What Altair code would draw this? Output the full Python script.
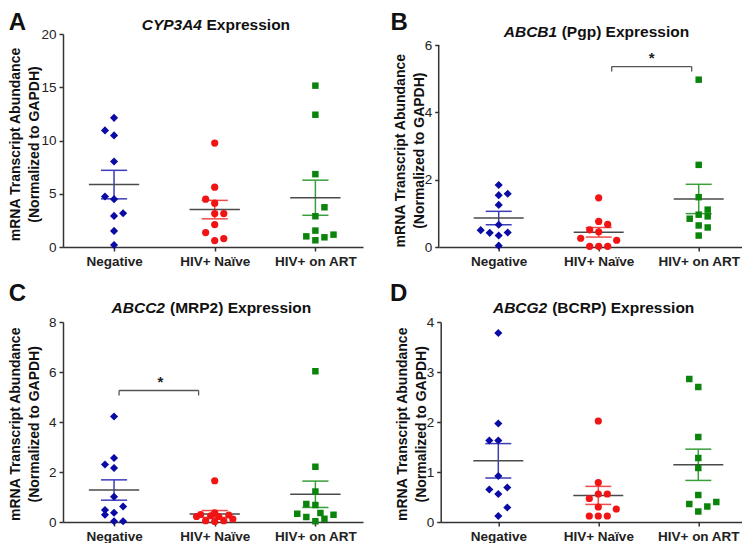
import altair as alt
import pandas as pd

GROUPS = ["Negative", "HIV+ Naïve", "HIV+ on ART"]

# ---- Panel A: CYP3A4 ----
A_neg = [12.13, 10.95, 10.48, 8.03, 4.74, 4.49, 3.17, 2.92, 1.51, 0.19]
A_neg_jit = [0, -0.09, 0, 0, -0.09, 0, 0.09, 0, 0, 0]
A_nai = [9.76, 5.62, 4.49, 4.11, 3.14, 3.14, 2.11, 1.35, 0.79, 0.60]
A_nai_jit = [0, 0, -0.09, 0, 0, 0.09, 0, -0.09, 0.09, 0]
A_art = [15.15, 12.42, 6.84, 3.73, 2.89, 1.54, 1.00, 0.63, 0.91, 1.16]
A_art_jit = [0, 0, 0, 0.09, 0, 0, -0.09, 0, 0.09, 0.18]

# ---- Panel B: ABCB1 ----
B_neg = [1.84, 1.58, 1.54, 1.25, 0.66, 0.50, 0.42, 0.43, 0.34, 0.04]
B_neg_jit = [0, 0.09, 0, 0, 0, -0.18, -0.09, 0.09, 0, 0]
B_nai = [1.46, 0.76, 0.67, 0.51, 0.45, 0.26, 0.20, 0.02, 0.02, 0.02]
B_nai_jit = [0, 0, 0.09, -0.09, 0, -0.18, 0.18, -0.09, 0, 0.09]
B_art = [4.97, 2.44, 1.48, 1.11, 0.91, 0.96, 0.84, 0.64, 0.58, 0.34]
B_art_jit = [0, 0, 0, 0.09, 0.09, 0, -0.09, 0, 0.09, 0]

# ---- Panel C: ABCC2 ----
C_neg = [4.22, 2.56, 2.30, 2.16, 1.01, 0.62, 0.48, 0.37, 0.29, 0.03, 0.03]
C_neg_jit = [0, 0, -0.09, 0, 0, 0.09, -0.09, 0, -0.09, 0, 0.09]
C_nai = [1.65, 0.37, 0.30, 0.22, 0.25, 0.22, 0.28, 0.12, 0.05, 0.05, 0.02]
C_nai_jit = [0, 0, -0.14, -0.18, -0.04, 0.04, 0.14, 0.18, -0.09, 0.09, 0]
C_art = [6.03, 2.21, 1.22, 0.72, 0.68, 0.36, 0.33, 0.29, 0.20, 0.13, 0.03]
C_art_jit = [0, 0, 0, -0.09, 0, 0.05, -0.18, 0.18, -0.09, 0.09, 0]

# ---- Panel D: ABCG2 ----
D_neg = [3.78, 1.97, 1.63, 1.63, 0.92, 0.69, 0.65, 0.56, 0.29, 0.12]
D_neg_jit = [0, 0, -0.09, 0, 0, 0.09, -0.09, 0, 0.09, 0]
D_nai = [2.02, 0.79, 0.56, 0.56, 0.47, 0.30, 0.26, 0.12, 0.12, 0.12]
D_nai_jit = [0, 0, 0, 0.09, -0.09, 0, 0.18, -0.09, 0, 0.09]
D_art = [2.86, 2.70, 1.70, 1.28, 1.08, 0.54, 0.40, 0.36, 0.31, 0.21]
D_art_jit = [-0.09, 0, 0, 0, 0, 0, 0.18, -0.09, 0.09, 0]

# significance brackets: [x_left, x_right, y_top, y_leg_bottom, star_x, star_y]
B_bracket = [1.13, 1.93, 5.36, 5.21, 1.53, 5.62]
C_bracket = [0.05, 0.84, 5.26, 5.06, 0.46, 5.60]

Y_TITLE_1 = "mRNA Transcript Abundance"
Y_TITLE_2 = "(Normalized to GAPDH)"

POINT_COLORS = ["#0a0aa5", "#f01414", "#0b840b"]
ERR_COLORS = ["#3c3cb9", "#f04a4a", "#3a9e3a"]
SHAPES = ["diamond", "circle", "square"]
SIZES = [66, 52, 42]
MEAN_COLOR = "#4a4a4a"
AXIS_COLOR = "#333333"
FONT = "Liberation Sans"


def make_df(vals, jits):
    rows = []
    for gi, (v, j) in enumerate(zip(vals, jits)):
        for a, b in zip(v, j):
            rows.append({"grp": GROUPS[gi], "g": gi, "value": a, "jit": b})
    return pd.DataFrame(rows)


def text_layer(t, x, y, **kw):
    return alt.Chart(pd.DataFrame({"t": [t]})).mark_text(color="#111111", **kw).encode(
        text="t:N", x=alt.value(x), y=alt.value(y))


def panel(vals, jits, xdom, ymax, yticks, w, h, letter, letter_xy,
          gene, rest, split, title_y, ytitle_xs, ytitle_y,
          bracket=None, axis_top=None):
    df = make_df(vals, jits)
    xscale = alt.Scale(domain=xdom, nice=False, zero=False)
    yscale = alt.Scale(domain=[0, ymax], nice=False, zero=True)
    xaxis = alt.Axis(values=[0, 1, 2],
                     labelExpr="['Negative','HIV+ Naïve','HIV+ on ART'][datum.value]",
                     title=None, labelFontWeight="bold", labelFontSize=13.5,
                     labelPadding=3, tickSize=4, grid=False, labelAngle=0,
                     labelFlush=False, labelOverlap=False)
    yaxis = alt.Axis(values=yticks, format="d", title=None,
                     labelFontSize=13.5, labelPadding=3, tickSize=4, grid=False,
                     labelFlush=False, domain=(axis_top is None))

    def X(f):
        return alt.X(f, type="quantitative", scale=xscale, axis=xaxis)

    def Y(f):
        return alt.Y(f, type="quantitative", scale=yscale, axis=yaxis)

    base = alt.Chart(df)
    agg = base.transform_aggregate(
        mean="mean(value)", sem="stderr(value)", groupby=["g", "grp"]
    ).transform_calculate(
        lo="datum.mean - datum.sem", hi="datum.mean + datum.sem",
        m1="datum.g - 0.25", m2="datum.g + 0.25",
        c1="datum.g - 0.13", c2="datum.g + 0.13",
    )
    err_color = alt.Color("grp:N", scale=alt.Scale(domain=GROUPS, range=ERR_COLORS), legend=None)

    sem_v = agg.mark_rule(strokeWidth=1.5).encode(x=X("g"), y=Y("lo"), y2="hi:Q", color=err_color)
    caps = agg.transform_fold(["lo", "hi"], as_=["which", "cap"]).mark_rule(strokeWidth=1.5).encode(
        x=X("c1"), x2="c2:Q", y=Y("cap"), color=err_color)
    mean_rule = agg.mark_rule(strokeWidth=1.5, color=MEAN_COLOR).encode(x=X("m1"), x2="m2:Q", y=Y("mean"))

    layers = []
    if axis_top is not None:
        # y-axis line that stops at the top tick
        ax = alt.Chart(pd.DataFrame({"x": [xdom[0]], "y1": [0], "y2": [axis_top]})).mark_rule(
            color=AXIS_COLOR, strokeWidth=1.5).encode(x=X("x"), y=Y("y1"), y2="y2:Q")
        layers.append(ax)
    layers += [sem_v, caps, mean_rule]
    for gi in range(3):
        pts = base.transform_filter(f"datum.g == {gi}").transform_calculate(
            xp="datum.g + datum.jit"
        ).mark_point(filled=True, opacity=1, shape=SHAPES[gi], size=SIZES[gi],
                     color=POINT_COLORS[gi], strokeWidth=0).encode(x=X("xp"), y=Y("value"))
        layers.append(pts)

    if bracket is not None:
        bx1, bx2, byt, byb, sx, sy = bracket
        hb = alt.Chart(pd.DataFrame({"x1": [bx1], "x2": [bx2], "y": [byt]})).mark_rule(
            color="#555555", strokeWidth=1.3).encode(x=X("x1"), x2="x2:Q", y=Y("y"))
        legs = alt.Chart(pd.DataFrame({"x": [bx1, bx2], "y1": [byb, byb], "y2": [byt, byt]})).mark_rule(
            color="#555555", strokeWidth=1.3).encode(x=X("x"), y=Y("y1"), y2="y2:Q")
        star = alt.Chart(pd.DataFrame({"x": [sx], "y": [sy], "t": ["*"]})).mark_text(
            fontSize=15, fontWeight="bold", color="#222", baseline="middle").encode(
            x=X("x"), y=Y("y"), text="t:N")
        layers += [hb, legs, star]

    layers.append(text_layer(letter, letter_xy[0], letter_xy[1], fontSize=24,
                             fontWeight="bold", align="left", baseline="top"))
    layers.append(text_layer(gene, split[0], title_y, fontSize=15.5, fontWeight="bold",
                             fontStyle="italic", align="right", baseline="alphabetic"))
    layers.append(text_layer(rest, split[1], title_y, fontSize=15.5, fontWeight="bold",
                             align="left", baseline="alphabetic"))
    layers.append(text_layer(Y_TITLE_1, ytitle_xs[0], ytitle_y, fontSize=14, fontWeight="bold",
                             angle=270, align="center", baseline="middle"))
    layers.append(text_layer(Y_TITLE_2, ytitle_xs[1], ytitle_y, fontSize=14, fontWeight="bold",
                             angle=270, align="center", baseline="middle"))

    return alt.layer(*layers).properties(width=w, height=h)


pA = panel([A_neg, A_nai, A_art], [A_neg_jit, A_nai_jit, A_art_jit],
           [-0.507, 2.473], 20, [0, 5, 10, 15, 20], 300, 213,
           "A", (-54.3, -23), "CYP3A4", "Expression", (139, 143.5), -4,
           (-47, -28), 110.5)
pB = panel([B_neg, B_nai, B_art], [B_neg_jit, B_nai_jit, B_art_jit],
           [-0.6, 2.43], 6 * 213 / 202, [0, 2, 4, 6], 303, 213,
           "B", (-48.3, -23), "ABCB1", "(Pgp) Expression", (118.5, 123), 3.3,
           (-38, -19), 116.7, bracket=B_bracket, axis_top=6)
pC = panel([C_neg, C_nai, C_art], [C_neg_jit, C_nai_jit, C_art_jit],
           [-0.507, 2.473], 8, [0, 2, 4, 6, 8], 300, 200,
           "C", (-54.3, -39.7), "ABCC2", "(MRP2) Expression", (102, 107), -8.7,
           (-47, -28), 102.3, bracket=C_bracket)
pD = panel([D_neg, D_nai, D_art], [D_neg_jit, D_nai_jit, D_art_jit],
           [-0.576, 2.434], 4, [0, 1, 2, 3, 4], 301, 200,
           "D", (-50.7, -39.7), "ABCG2", "(BCRP) Expression", (106.5, 111.5), -8.7,
           (-38, -18.5), 102.3)

row1 = alt.hconcat(pA, pB, spacing=26.7)
row2 = alt.hconcat(pC, pD, spacing=26.7)
chart = alt.vconcat(row1, row2, spacing=14).properties(
    padding={"top": 3, "left": 0, "right": 0, "bottom": 0}, background="white"
).configure(font=FONT).configure_view(stroke=None).configure_axis(
    domainColor=AXIS_COLOR, domainWidth=1.5, tickColor=AXIS_COLOR, tickWidth=1.5,
    labelColor="#222222", labelFont=FONT, titleFont=FONT,
)

chart.save("out.html", embed_options={"renderer": "svg", "actions": False})
